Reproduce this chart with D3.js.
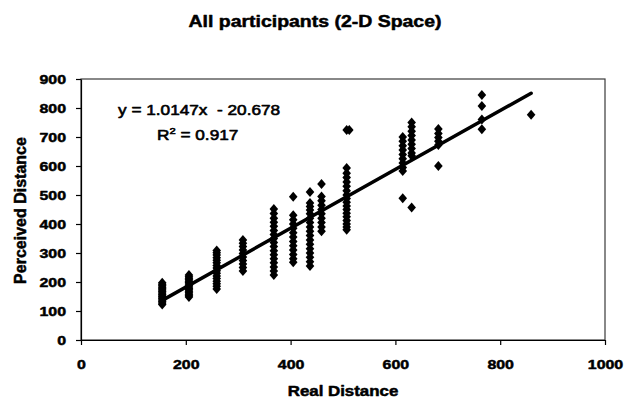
<!DOCTYPE html>
<html>
<head>
<meta charset="utf-8">
<script src="https://cdn.jsdelivr.net/npm/d3@7"></script>
<style>
  body { margin: 0; background: #fff; }
  text { font-family: "Liberation Sans", Arial, Helvetica, sans-serif; fill: #000; }
</style>
</head>
<body>
<svg id="chart" width="633" height="403"></svg>
<script>
// Real distance of each tested pair, and every participant's perceived distance for it
const realDistance = [155, 206, 259, 309, 368, 405, 437, 459, 507, 512, 614, 631, 682, 765, 859];
const perceivedDistance = [
  [122, 128, 133, 138, 143, 148, 152, 157, 162, 167, 172, 177, 182, 187, 192, 197],
  [148, 153, 158, 163, 168, 173, 178, 183, 188, 193, 198, 203, 208, 213, 218, 224],
  [176, 185, 194, 203, 212, 221, 230, 239, 248, 257, 266, 275, 284, 293, 301, 309],
  [238, 250, 262, 274, 286, 298, 310, 322, 334, 345],
  [224, 238, 252, 266, 280, 294, 308, 322, 336, 350, 364, 378, 392, 406, 420, 436, 452],
  [268, 280, 295, 310, 325, 340, 355, 370, 385, 400, 415, 430, 494],
  [255, 270, 285, 300, 315, 330, 345, 360, 375, 390, 405, 420, 435, 448, 460, 472, 510],
  [375, 390, 405, 420, 435, 450, 465, 480, 495, 538],
  [380, 390, 400, 412, 425, 437, 450, 462, 475, 488, 500, 515, 530, 545, 560, 575, 593, 724],
  [724],
  [489, 583, 595, 610, 625, 640, 655, 670, 685, 700],
  [457, 635, 645, 660, 675, 690, 705, 720, 735, 750],
  [600, 672, 685, 698, 712, 728],
  [727, 760, 807, 845],
  [777]
];

// Axis ticks
const xTicks = [0, 200, 400, 600, 800, 1000];
const yTicks = [0, 100, 200, 300, 400, 500, 600, 700, 800, 900];

// Linear trend line fitted to all points
const slope = 1.0147;
const intercept = -20.678;
const rSquared = 0.917;

const points = [];
realDistance.forEach((rx, i) => perceivedDistance[i].forEach(py => points.push({ x: rx, y: py })));

const svg = d3.select("#chart");
const margin = { left: 81, right: 28, top: 79, bottom: 63 };
const width = 633, height = 403;

const x = d3.scaleLinear().domain([0, 1000]).range([margin.left, width - margin.right]);
const y = d3.scaleLinear().domain([0, 900]).range([height - margin.bottom, margin.top]);

const WIDE = 1.18; // horizontal text widening

function widen(sel, k) {
  sel.each(function () {
    const t = d3.select(this);
    const tx = +t.attr("x") || 0, ty = +t.attr("y") || 0;
    t.attr("transform", `translate(${tx},${ty}) scale(${k},1) translate(${-tx},${-ty})`);
  });
}

// Heavier glyphs for the bold labels
function heavy(sel, w) {
  sel.attr("stroke", "#000").attr("stroke-width", w).attr("stroke-linejoin", "round");
}

svg.append("rect").attr("width", width).attr("height", height).attr("fill", "#fff");

// Plot-area frame
svg.append("rect")
  .attr("x", x(0)).attr("y", y(900))
  .attr("width", x(1000) - x(0)).attr("height", y(0) - y(900))
  .attr("fill", "none").attr("stroke", "#3a3a3a").attr("stroke-width", 1.2);

// Axes
const xAxis = svg.append("g")
  .attr("transform", `translate(0,${y(0)})`)
  .call(d3.axisBottom(x).tickValues(xTicks).tickSize(5).tickSizeOuter(0).tickFormat(d3.format("d")));
const yAxis = svg.append("g")
  .attr("transform", `translate(${x(0)},0)`)
  .call(d3.axisLeft(y).tickValues(yTicks).tickSize(5).tickSizeOuter(0).tickFormat(d3.format("d")));

[xAxis, yAxis].forEach(g => {
  g.select(".domain").attr("stroke", "#000").attr("stroke-width", 1.2);
  g.selectAll(".tick line").attr("stroke", "#000").attr("stroke-width", 1.2);
  g.selectAll(".tick text")
    .style("font-family", '"Liberation Sans", Arial, sans-serif')
    .style("font-weight", "bold").style("font-size", "13.5px").attr("fill", "#000");
  heavy(g.selectAll(".tick text"), 0.5);
});
xAxis.selectAll(".tick text").attr("y", 19);
yAxis.selectAll(".tick text").attr("x", -15);
widen(xAxis.selectAll(".tick text"), WIDE);
widen(yAxis.selectAll(".tick text"), WIDE);

// Trend line across the observed range
const xMin = d3.min(realDistance), xMax = d3.max(realDistance);
svg.append("line")
  .attr("x1", x(xMin)).attr("y1", y(slope * xMin + intercept))
  .attr("x2", x(xMax)).attr("y2", y(slope * xMax + intercept))
  .attr("stroke", "#000").attr("stroke-width", 3.5).attr("stroke-linecap", "round");

// Diamond markers
const diamond = "M0,-5L4.3,0L0,5L-4.3,0Z";
svg.append("g").selectAll("path").data(points).join("path")
  .attr("d", diamond)
  .attr("transform", d => `translate(${x(d.x)},${y(d.y)})`)
  .attr("fill", "#000");

// Title
const title = svg.append("text")
  .attr("x", 315).attr("y", 27)
  .attr("text-anchor", "middle")
  .style("font-weight", "bold").style("font-size", "16.5px")
  .text("All participants (2-D Space)");
heavy(title, 0.5);
widen(title, WIDE);

// Axis titles
const xTitle = svg.append("text")
  .attr("x", x(500)).attr("y", 396)
  .attr("text-anchor", "middle")
  .style("font-weight", "bold").style("font-size", "14.3px")
  .text("Real Distance");
heavy(xTitle, 0.5);
widen(xTitle, WIDE);

const yTitle = svg.append("text")
  .attr("transform", `translate(26,${(y(0) + y(900)) / 2 + 1}) rotate(-90)`)
  .attr("text-anchor", "middle")
  .style("font-weight", "bold").style("font-size", "16px")
  .text("Perceived Distance");
heavy(yTitle, 0.5);

// Trend-line equation and R²
const eq = svg.append("text")
  .attr("x", 118).attr("y", 115)
  .style("font-size", "14.6px")
  .attr("xml:space", "preserve")
  .text(`y = ${slope}x  - ${Math.abs(intercept)}`);
heavy(eq, 0.6);
widen(eq, WIDE);

const r2 = svg.append("text")
  .attr("x", 157).attr("y", 140)
  .style("font-size", "14.6px");
r2.append("tspan").text("R");
r2.append("tspan").attr("dy", -6).style("font-size", "9.5px").text("2");
r2.append("tspan").attr("dy", 6).text(` = ${rSquared}`);
heavy(r2, 0.6);
widen(r2, WIDE);
</script>
</body>
</html>
